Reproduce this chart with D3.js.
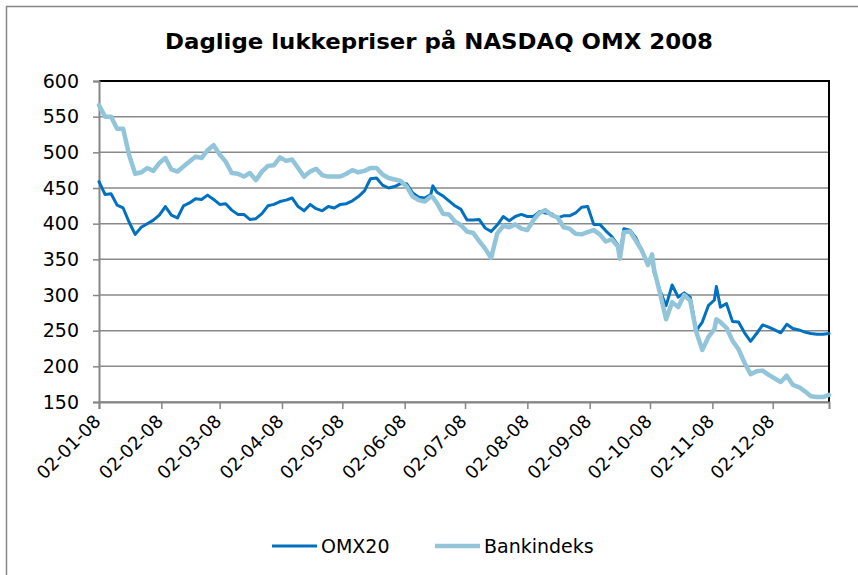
<!DOCTYPE html>
<html>
<head>
<meta charset="utf-8">
<script src="https://cdn.jsdelivr.net/npm/d3@7"></script>
<style>
  body { margin: 0; background: #fff; }
  text { font-family: "DejaVu Sans", Verdana, sans-serif; fill: #000; }
</style>
</head>
<body>
<svg id="chart"></svg>
<script>
let dates = [
  "2008-01-02","2008-01-05","2008-01-08","2008-01-11","2008-01-14","2008-01-17","2008-01-20","2008-01-23","2008-01-26","2008-01-29",
  "2008-02-01","2008-02-04","2008-02-07","2008-02-10","2008-02-13","2008-02-16","2008-02-19","2008-02-22","2008-02-25","2008-02-28",
  "2008-03-02","2008-03-05","2008-03-08","2008-03-11","2008-03-14","2008-03-17","2008-03-20","2008-03-23","2008-03-26","2008-03-29",
  "2008-04-01","2008-04-04","2008-04-07","2008-04-10","2008-04-13","2008-04-16","2008-04-19","2008-04-22","2008-04-25","2008-04-28",
  "2008-05-01","2008-05-04","2008-05-07","2008-05-10","2008-05-13","2008-05-16","2008-05-19","2008-05-22","2008-05-25","2008-05-28","2008-05-31",
  "2008-06-03","2008-06-06","2008-06-09","2008-06-12","2008-06-15","2008-06-16","2008-06-18","2008-06-21","2008-06-24","2008-06-27","2008-06-30",
  "2008-07-03","2008-07-06","2008-07-09","2008-07-12","2008-07-15","2008-07-18","2008-07-21","2008-07-24","2008-07-27","2008-07-30",
  "2008-08-02","2008-08-05","2008-08-08","2008-08-11","2008-08-14","2008-08-17","2008-08-20","2008-08-23","2008-08-26","2008-08-29",
  "2008-09-01","2008-09-04","2008-09-07","2008-09-10","2008-09-13","2008-09-16","2008-09-17","2008-09-19","2008-09-22","2008-09-25","2008-09-28",
  "2008-10-01","2008-10-03","2008-10-04","2008-10-07","2008-10-10","2008-10-13","2008-10-16","2008-10-19","2008-10-22","2008-10-25","2008-10-28","2008-10-31",
  "2008-11-03","2008-11-04","2008-11-06","2008-11-09","2008-11-12","2008-11-15","2008-11-18","2008-11-21","2008-11-24","2008-11-27","2008-11-30",
  "2008-12-03","2008-12-06","2008-12-09","2008-12-12","2008-12-15","2008-12-18","2008-12-21","2008-12-24","2008-12-27","2008-12-30"
]

let omx20 = [
  459,441,442,426,422,402,385,395,400,405,
  412,424,412,408,425,429,435,434,440,434,
  427,428,419,413,413,406,407,414,425,427,
  431,433,436,424,418,427,421,418,424,422,
  427,428,432,438,446,463,464,454,450,452,456,
  456,443,437,436,441,453,444,439,432,425,420,
  405,405,406,394,389,398,410,404,410,413,
  410,410,417,415,414,408,411,411,415,423,
  424,399,399,390,382,370,356,393,391,380,362,
  342,352,332,306,285,314,297,303,297,250,262,285,
  293,312,283,288,263,262,247,235,246,258,255,
  251,247,259,253,251,248,246,245,245,246
]

let bankindeks = [
  566,550,550,533,533,496,470,472,478,474,
  485,492,476,473,480,487,494,492,503,510,
  497,487,471,470,466,471,461,473,481,482,
  493,488,490,478,466,473,477,468,466,466,
  466,470,475,472,474,478,478,469,464,462,460,
  452,438,433,431,438,437,429,414,413,403,398,
  389,387,376,365,352,386,397,395,399,393,
  391,405,415,419,412,409,395,393,386,385,
  388,391,385,375,378,368,351,388,389,376,362,
  342,357,336,302,266,290,283,300,292,248,223,241,
  252,266,262,254,236,224,205,189,193,194,188,
  183,178,187,174,171,165,158,157,157,160
]

let seriesNames = ['OMX20', 'Bankindeks']
let seriesColors = ['#0070c0', '#93c5da']
let yTicks = [150, 200, 250, 300, 350, 400, 450, 500, 550, 600]
let xTicks = ["2008-01-02","2008-02-02","2008-03-02","2008-04-02","2008-05-02","2008-06-02",
              "2008-07-02","2008-08-02","2008-09-02","2008-10-02","2008-11-02","2008-12-02"]
let title = 'Daglige lukkepriser på NASDAQ OMX 2008'

function graficar() {
  let w = 858
  let h = 575
  let m = { left: 99, right: 829, top: 81, bottom: 402 }
  let parse = d3.timeParse('%Y-%m-%d')

  var svg = d3.select('#chart')
              .attr('width', w)
              .attr('height', h)

  // outer chart border
  svg.append('rect')
    .attr('x', 6.5).attr('y', 6.5)
    .attr('width', 870).attr('height', 600)
    .attr('fill', 'none')
    .attr('stroke', '#868686')
    .attr('stroke-width', 1.5)

  let x = d3.scaleTime()
    .domain([parse(dates[0]), parse(dates[dates.length - 1])])
    .range([m.left, m.right])
  let y = d3.scaleLinear()
    .domain([150, 600])
    .range([m.bottom, m.top])

  // gridlines
  svg.append('g')
    .selectAll('line')
    .data(yTicks)
    .enter()
    .append('line')
    .attr('x1', m.left).attr('x2', m.right)
    .attr('y1', d => y(d)).attr('y2', d => y(d))
    .attr('stroke', '#8a8a8a')
    .attr('stroke-width', 1.5)

  // plot border (top/right black)
  svg.append('path')
    .attr('d', `M${m.left},${m.top}H${m.right}V${m.bottom}`)
    .attr('fill', 'none')
    .attr('stroke', '#000')
    .attr('stroke-width', 2)

  let yAxis = svg.append('g')
    .attr('transform', `translate(${m.left},0)`)
    .call(d3.axisLeft(y).tickValues(yTicks).tickSize(6).tickPadding(14))
  yAxis.select('.domain').attr('stroke', '#868686').attr('stroke-width', 2)
  yAxis.selectAll('.tick line').attr('stroke', '#868686').attr('stroke-width', 1.5)
  yAxis.selectAll('.tick text')
    .style('font-size', '19px')
    .style('font-family', '"DejaVu Sans", Verdana, sans-serif')

  let xAxis = svg.append('g')
    .attr('transform', `translate(0,${m.bottom})`)
    .call(d3.axisBottom(x)
      .tickValues(xTicks.map(parse))
      .tickFormat(d3.timeFormat('%d-%m-%y'))
      .tickSize(7))
  xAxis.select('.domain').attr('stroke', '#868686').attr('stroke-width', 2)
  xAxis.selectAll('.tick line').attr('stroke', '#868686').attr('stroke-width', 1.5)
  xAxis.selectAll('.tick text')
    .style('font-size', '18px')
    .style('font-family', '"DejaVu Sans", Verdana, sans-serif')
    .attr('text-anchor', 'end')
    .attr('y', 0)
    .attr('dy', '0.35em')
    .attr('transform', 'translate(-2,16) rotate(-45)')

  // lines
  let series = [omx20, bankindeks]
  let line = d3.line()
    .x((d, i) => x(parse(dates[i])))
    .y(d => y(d))

  series.forEach((s, k) => {
    svg.append('path')
      .datum(s)
      .attr('d', line)
      .attr('fill', 'none')
      .attr('stroke', seriesColors[k])
      .attr('stroke-width', k == 0 ? 3 : 4.5)
      .attr('stroke-linejoin', 'round')
      .attr('stroke-linecap', 'round')
  })

  // title
  svg.append('text')
    .text(title)
    .attr('x', 439)
    .attr('y', 49)
    .attr('text-anchor', 'middle')
    .attr('textLength', 548)
    .attr('lengthAdjust', 'spacingAndGlyphs')
    .style('font-size', '22px')
    .style('font-weight', 'bold')

  // legend
  let legX = [272, 435]
  let leg = svg.selectAll('.leg')
    .data(seriesNames)
    .enter()
    .append('g')
    .attr('class', 'leg')
    .attr('transform', (d, i) => `translate(${legX[i]},546)`)
  leg.append('line')
    .attr('x1', 0).attr('x2', 45)
    .attr('stroke', (d, i) => seriesColors[i])
    .attr('stroke-width', (d, i) => i == 0 ? 3 : 4.5)
  leg.append('text')
    .text(d => d)
    .attr('x', 49)
    .attr('dy', '0.35em')
    .style('font-size', '19px')
}

graficar()
</script>
</body>
</html>
